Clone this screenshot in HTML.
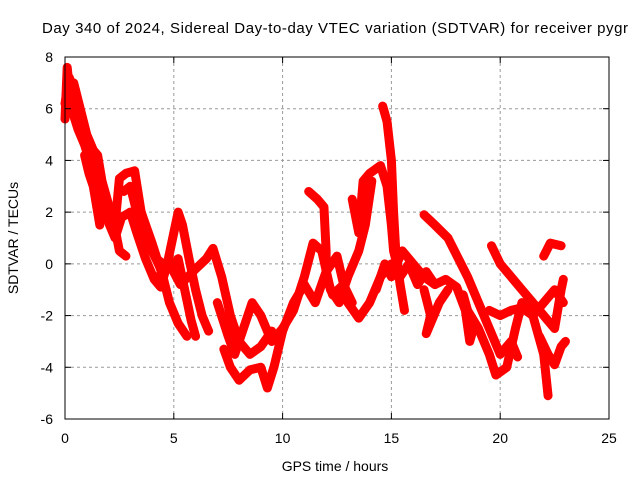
<!DOCTYPE html>
<html><head><meta charset="utf-8"><style>
body{margin:0;background:#fff}
svg{display:block;font-family:"Liberation Sans",sans-serif}
</style></head><body>
<svg id="chart" width="640" height="480" viewBox="0 0 640 480">
<rect width="640" height="480" fill="#fff"/>
<text x="42" y="33" font-size="15" textLength="586" lengthAdjust="spacing" fill="#000">Day 340 of 2024, Sidereal Day-to-day VTEC variation (SDTVAR) for receiver pygr</text>
<g id="grid"></g>
<g id="series"></g>
<rect x="65" y="57" width="544" height="362" fill="none" stroke="#000" stroke-width="1"/>
<g id="axes"></g>
<text x="335" y="471" font-size="14" text-anchor="middle">GPS time / hours</text>
<text transform="translate(18,238) rotate(-90)" font-size="14" text-anchor="middle">SDTVAR / TECUs</text>
</svg>
<script>
const xTicks=[0,5,10,15,20,25];
const yTicks=[-6,-4,-2,0,2,4,6,8];
const track1=[[0,6.2],[0.2,7.2],[0.5,6.5],[0.8,5.5],[1.1,4.6],[1.4,3.5],[1.7,2.2],[2.0,1.6],[2.3,1.0],[2.6,1.8],[3.0,2.0],[3.3,1.2],[3.7,0.2],[4.1,-0.6],[4.4,-0.9],[4.7,0],[5.0,1.2],[5.2,2.0],[5.4,1.5],[5.7,0.2],[6.0,-1.0],[6.3,-2.0],[6.6,-2.6]];
const track2=[[0,5.6],[0.1,7.6],[0.3,6.0],[0.6,5.2],[0.9,4.6],[1.2,3.8],[1.4,3.0],[1.6,2.2]];
const track2b=[[0.1,6.5],[0.4,7.0],[0.7,6.0],[1.0,5.0],[1.3,4.4],[1.5,4.2],[1.7,3.2],[1.9,2.6],[2.1,2.0]];
const track2c=[[0.9,4.2],[1.1,3.5],[1.3,3.0],[1.4,2.5],[1.5,2.0],[1.6,1.5]];
const track3=[[2.3,1.5],[2.5,3.3],[2.8,3.5],[3.2,3.6],[3.5,2.0],[3.8,1.0],[4.2,0.2],[4.8,-0.2],[5.2,0.2],[5.5,-1.0],[5.8,-2.2],[6.0,-2.8]];
const track3b=[[2.7,2.8],[3.0,3.0],[3.3,2.0],[3.6,1.5],[4.0,0.5],[4.4,-0.2]];
const track4=[[1.8,2.5],[2.2,1.8],[2.5,0.5],[2.8,0.3]];
const track5=[[3.5,2.0],[4.0,0.8],[4.5,-0.5],[4.8,-1.5],[5.2,-2.3],[5.6,-2.8]];
const track6=[[4.3,-0.5],[4.8,0],[5.3,-0.8],[6.0,-0.2],[6.5,0.2],[6.8,0.6],[7.2,-0.5],[7.6,-2.0],[8.0,-3.0],[8.5,-3.5],[9.0,-3.2],[9.5,-2.6]];
const track7=[[7.0,-1.5],[7.5,-2.8],[7.8,-3.5],[8.2,-2.5],[8.6,-1.5],[9.0,-2.0],[9.5,-3.0],[10.0,-2.5],[10.5,-1.8],[11.0,-0.5],[11.4,0.8],[11.8,0.5],[12.2,-1.0],[12.6,-1.5],[13.0,-0.5],[13.5,0.5],[13.8,1.5],[14.1,3.2]];
const track8=[[7.3,-3.3],[7.6,-4.0],[8.0,-4.5],[8.5,-4.1],[9.0,-4.0],[9.3,-4.8],[9.6,-4.0],[10.0,-2.6],[10.5,-1.5],[11.0,-0.8],[11.5,-1.5],[12.0,-0.3],[12.5,0.3],[13.0,-1.5],[13.5,-2.1],[14.0,-1.5],[14.5,-0.5],[15.0,0.0]];
const track9=[[11.2,2.8],[11.6,2.5],[11.9,2.2],[12.0,0.5],[12.0,-0.5],[12.3,-1.2],[12.8,-0.8],[13.2,-1.5]];
const track10=[[13.2,2.5],[13.5,1.2],[13.7,3.2],[14.0,3.5],[14.5,3.8],[14.8,3.0],[15.0,1.5],[15.1,0.5],[15.4,-0.5],[15.8,0.0],[16.2,-0.8],[16.6,-0.3],[17.0,-0.8]];
const track11=[[14.6,6.1],[14.8,5.5],[15.0,4.0],[15.1,2.0],[15.2,0.5],[15.4,-0.8],[15.6,-1.8]];
const track12=[[14.3,-1.0],[14.7,0.0],[15.0,-0.5],[15.5,0.5],[16.0,0.0],[16.5,-0.5],[17.0,-0.8],[17.5,-0.6],[18.0,-0.9],[18.4,-1.8],[18.6,-3.0],[18.8,-2.4]];
const track13=[[16.5,1.9],[17.0,1.5],[17.6,1.0],[17.9,0.5],[18.5,-0.5],[19.0,-1.5],[19.5,-2.5],[20.0,-3.5],[20.5,-3.0],[20.8,-3.6]];
const track14=[[19.6,0.7],[20.0,0.0],[20.5,-0.5],[21.0,-1.0],[21.5,-1.5],[22.0,-2.0],[22.5,-2.5],[22.8,-1.0],[22.9,-0.6]];
const track15=[[22.0,0.3],[22.3,0.8],[22.8,0.7]];
const track16=[[18.3,-1.2],[18.5,-1.8],[19.0,-2.5],[19.5,-3.5],[19.8,-4.3],[20.3,-4.0],[20.7,-2.5],[21.0,-1.5],[21.5,-2.0],[22.0,-3.5],[22.2,-5.1]];
const track17=[[16.5,-1.0],[16.8,-2.0],[16.6,-2.7],[17.2,-1.5],[17.6,-1.0]];
const track18=[[21.8,-2.8],[22.2,-3.5],[22.5,-3.9],[22.8,-3.2],[23.0,-3.0]];
const track19=[[19.5,-1.8],[20.0,-2.0],[20.5,-1.8],[21.0,-1.7],[21.5,-2.0],[22.0,-1.5],[22.5,-1.0],[22.9,-1.5]];
const tracks=[track1,track2,track2b,track2c,track3,track3b,track4,track5,track6,track7,track8,track9,track10,track11,track12,track13,track14,track15,track16,track17,track18,track19];

const NS="http://www.w3.org/2000/svg";
const L=65,R=609,T=57,B=419;
const xS=t=>L+(t-0)/(25-0)*(R-L);
const yS=v=>B-(v-(-6))/(8-(-6))*(B-T);
const grid=document.getElementById('grid'),axes=document.getElementById('axes'),ser=document.getElementById('series');
function mk(tag,attrs,parent){const e=document.createElementNS(NS,tag);for(const k in attrs)e.setAttribute(k,attrs[k]);parent.appendChild(e);return e;}
xTicks.forEach(t=>{
  const x=xS(t);
  if(t>0&&t<25){const g=mk('line',{x1:x,x2:x,y1:T,y2:B,stroke:'#999','stroke-dasharray':'3,3'},grid);
  
  }
  mk('line',{x1:x,x2:x,y1:B,y2:B-6,stroke:'#000'},axes);
  mk('line',{x1:x,x2:x,y1:T,y2:T+6,stroke:'#000'},axes);
  const lb=mk('text',{x:x,y:B+24,'font-size':14,'text-anchor':'middle'},axes);lb.textContent=t;
  
  
});
yTicks.forEach(v=>{
  const y=yS(v);
  if(v>-6&&v<8){const g=mk('line',{x1:L,x2:R,y1:y,y2:y,stroke:'#999','stroke-dasharray':'3,3'},grid);
  
  }
  mk('line',{x1:L,x2:L+6,y1:y,y2:y,stroke:'#000'},axes);
  mk('line',{x1:R,x2:R-6,y1:y,y2:y,stroke:'#000'},axes);
  const lb=mk('text',{x:L-12,y:y+5,'font-size':14,'text-anchor':'end'},axes);lb.textContent=v;
  
  
});
tracks.forEach(tr=>{
  const p=mk('polyline',{points:tr.map(d=>xS(d[0])+','+yS(d[1])).join(' '),fill:'none',stroke:'#ff0000','stroke-width':9,'stroke-linejoin':'round','stroke-linecap':'round'},ser);
  
  
});
</script>
</body></html>
